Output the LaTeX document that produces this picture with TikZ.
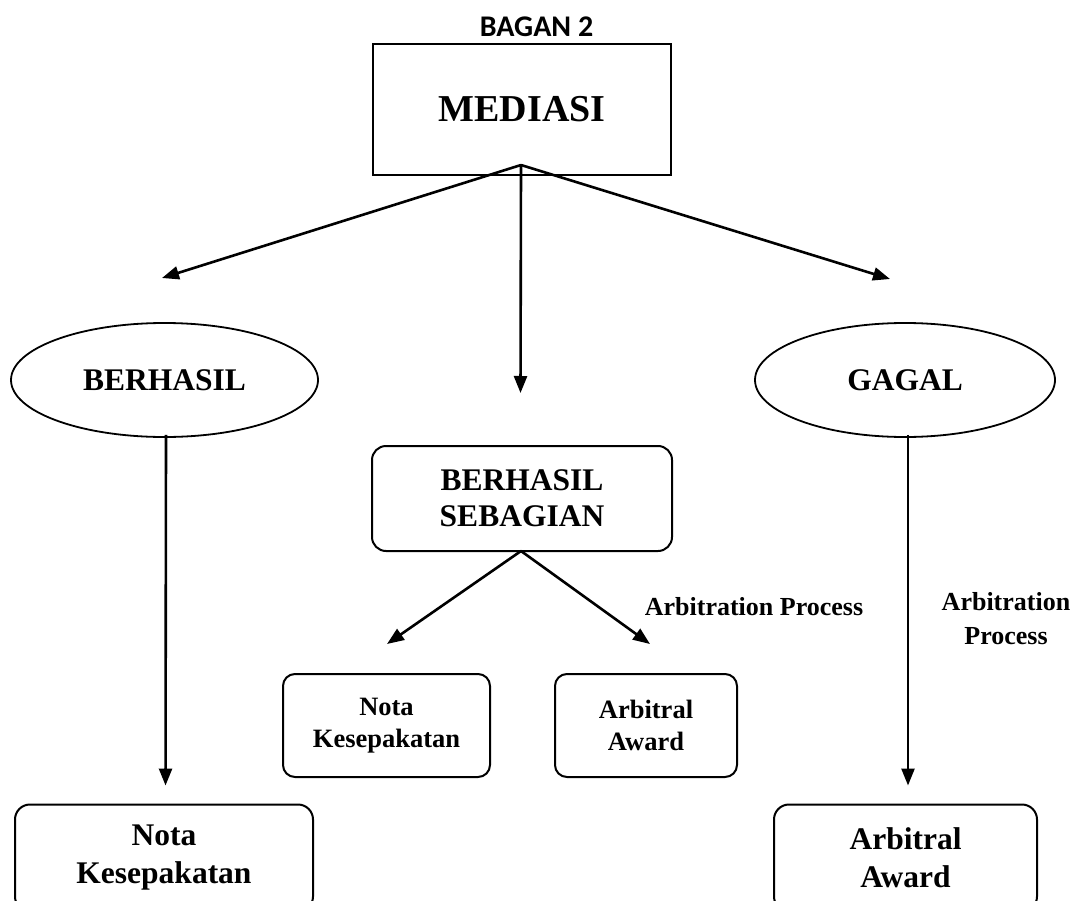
\documentclass[tikz,border=0pt]{standalone}
\usepackage{fontspec}
\setmainfont{Liberation Serif}
\newfontfamily\titlefont{Carlito}
\usetikzlibrary{arrows.meta,shapes.geometric}
\begin{document}
\begin{tikzpicture}[x=1pt,y=-1pt,
  box/.style={draw,line width=2pt,inner sep=0pt,align=center},
  rbox/.style={box,rounded corners=14pt},
  oval/.style={draw,ellipse,line width=1.8pt,inner sep=0pt,align=center},
  arr/.style={line width=2.6pt,-{Triangle[length=17pt,width=13pt]}},
  big/.style={font=\bfseries\fontsize{31.5}{36}\selectfont},
  small/.style={font=\bfseries\fontsize{26.5}{32}\selectfont},
  bottom/.style={font=\bfseries\fontsize{31.5}{38}\selectfont},
  lbl/.style={font=\bfseries\fontsize{26}{34}\selectfont,align=center,inner sep=0pt},
  ]
\useasboundingbox (0,0) rectangle (1075,901);
\clip (0,0) rectangle (1075,901);
\node[font=\titlefont\bfseries\fontsize{30}{36}\selectfont,inner sep=0pt] (title) at (536.5,26.5) {BAGAN 2};
\node[box,minimum width=298pt,minimum height=131pt,font=\bfseries\fontsize{38}{44}\selectfont] (med) at (522,109.5) {MEDIASI};
\node[oval,big,minimum width=307pt,minimum height=114pt] (ber) at (164.5,380) {BERHASIL};
\node[oval,big,minimum width=300pt,minimum height=114pt] (gag) at (905,380) {GAGAL};
\node[rbox,big,minimum width=300pt,minimum height=105pt] (seb) at (522,498.5) {BERHASIL\\SEBAGIAN};
\node[rbox,small,rounded corners=12pt,minimum width=207pt,minimum height=103pt] (nota1) at (386.5,725.5) {Nota\\Kesepakatan};
\node[rbox,small,rounded corners=12pt,minimum width=182pt,minimum height=103pt] (arb1) at (646,725.5) {Arbitral\\Award};
\node[rbox,bottom,rounded corners=15pt,minimum width=298pt,minimum height=107pt] (nota2) at (164,858) {Nota\\Kesepakatan};
\node[rbox,bottom,rounded corners=15pt,minimum width=263pt,minimum height=107pt] (arb2) at (905.5,858) {Arbitral\\Award};
\node[lbl] (lab1) at (754,606.5) {Arbitration Process};
\node[lbl] (lab2) at (1006,619) {Arbitration\\Process};
\coordinate (apex) at (521,165);
\coordinate (t1) at (162,278);
\coordinate (t2) at (520.5,393);
\coordinate (t3) at (890,279);
\coordinate (sapex) at (521,551);
\coordinate (t4) at (387,644);
\coordinate (t5) at (650,644);
\draw[arr] (apex) -- (t1);
\draw[arr] (apex) -- (t2);
\draw[arr] (apex) -- (t3);
\draw[arr] (sapex) -- (t4);
\draw[arr] (sapex) -- (t5);
\draw[arr,shorten >=18pt] (ber.south) ++(1.5,-3) -- (nota2.north -| 165.5,0);
\draw[arr,shorten >=18pt] (gag.south) ++(3,-3) -- (arb2.north -| 908,0);
\end{tikzpicture}
\end{document}
